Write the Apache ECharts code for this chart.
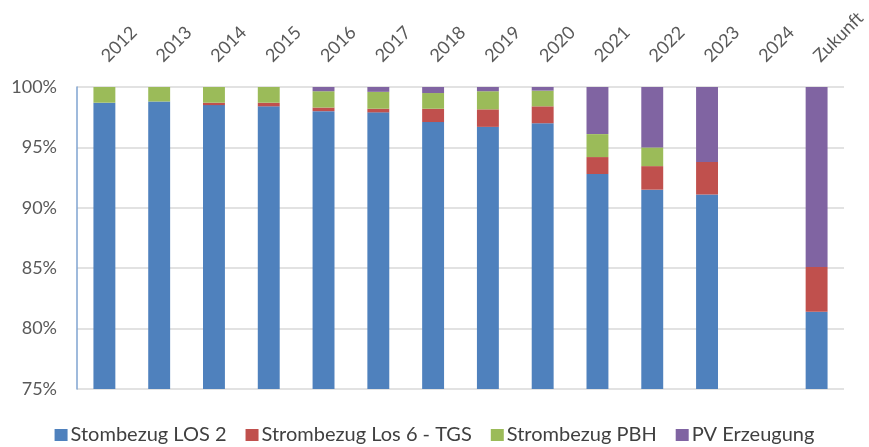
<!DOCTYPE html>
<html>
<head>
<meta charset="utf-8">
<script src="https://cdn.jsdelivr.net/npm/echarts@6/dist/echarts.min.js"></script>
<style>
  html, body { margin: 0; padding: 0; background: #fff; }
  #chart { width: 869px; height: 447px; }
</style>
</head>
<body>
<div id="chart"></div>
<script>
// Categories (years plus the outlook column)
const categories = ['2012','2013','2014','2015','2016','2017','2018','2019','2020','2021','2022','2023','2024','Zukunft'];

// Share of total electricity per source, in percent
const los2   = [98.7, 98.8, 98.5, 98.4, 98.0, 97.9, 97.1, 96.7, 97.0, 92.8, 91.5, 91.1, null, 81.4];
const los6   = [0.0,  0.0,  0.2,  0.3,  0.3,  0.3,  1.1,  1.45, 1.4,  1.4,  1.95, 2.7,  null, 3.7];
const pbh    = [1.3,  1.2,  1.3,  1.3,  1.35, 1.4,  1.3,  1.5,  1.3,  1.9,  1.55, 0.0,  null, 0.0];
const pv     = [0.0,  0.0,  0.0,  0.0,  0.35, 0.4,  0.5,  0.35, 0.3,  3.9,  5.0,  6.2,  null, 14.9];

const seriesNames = ['Stombezug LOS 2', 'Strombezug Los 6 - TGS', 'Strombezug PBH', 'PV Erzeugung'];
const seriesColors = ['#4F81BD', '#C0504D', '#9BBB59', '#8064A2'];
const yTicks = { min: 75, max: 100, step: 5 };

const FONT = 'Lato, "Open Sans", sans-serif';
const chart = echarts.init(document.getElementById('chart'), null, { renderer: 'canvas' });

const values = [los2, los6, pbh, pv];
const series = values.map((arr, i) => ({
  name: seriesNames[i],
  type: 'bar',
  stack: 'share',
  barWidth: '40%',
  itemStyle: { color: seriesColors[i] },
  emphasis: { disabled: true },
  data: arr
}));

chart.setOption({
  animation: false,
  backgroundColor: '#ffffff',
  grid: { left: 77, right: 25, top: 87, bottom: 58 },
  legend: {
    left: 'center',
    top: 424,
    padding: 0,
    itemWidth: 13,
    itemHeight: 12,
    itemGap: 19,
    icon: 'rect',
    textStyle: { fontFamily: FONT, fontSize: 20, lineHeight: 22, color: '#404040', padding: [0, 0, 0, -2] },
    data: seriesNames
  },
  xAxis: {
    type: 'category',
    position: 'top',
    data: categories,
    axisLine: { show: false },
    axisTick: { show: false },
    axisLabel: {
      rotate: -45,
      margin: 28,
      fontFamily: FONT,
      fontSize: 18,
      color: '#595959'
    }
  },
  yAxis: {
    type: 'value',
    min: yTicks.min,
    max: yTicks.max,
    interval: yTicks.step,
    axisLine: { show: true, lineStyle: { color: '#7FA3D1', width: 1.5 } },
    axisTick: { show: false },
    splitLine: { show: true, lineStyle: { color: '#D9D9D9', width: 1.5 } },
    axisLabel: {
      margin: 20,
      fontFamily: FONT,
      fontSize: 18,
      color: '#595959',
      formatter: '{value}%'
    }
  },
  series: series
});
</script>
</body>
</html>
